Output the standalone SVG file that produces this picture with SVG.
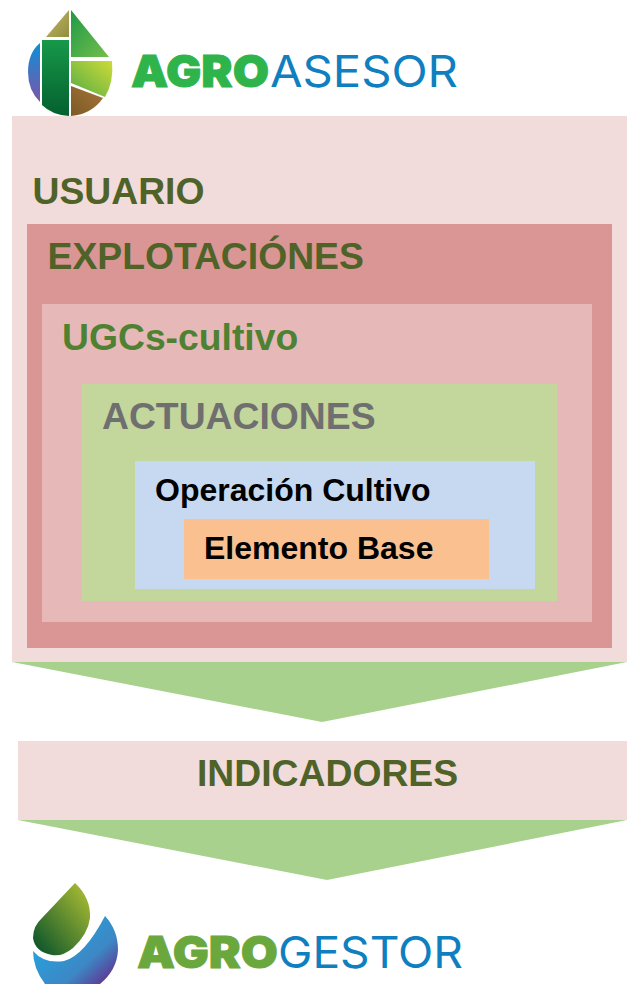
<svg xmlns="http://www.w3.org/2000/svg" width="627" height="984" viewBox="0 0 627 984">
<style>
text{font-family:"Liberation Sans",Arial,sans-serif;font-weight:700}
.logo{font-family:Inter,"Liberation Sans",sans-serif;font-size:44px}
.agro{font-weight:900;stroke-width:.9}
.rest{font-weight:400;fill:#0f7fc0}
</style>
<defs>
<linearGradient id="g1" x1="0" y1="0" x2="1" y2="1"><stop offset="0" stop-color="#c8b56a"/><stop offset="1" stop-color="#8f8f3e"/></linearGradient>
<linearGradient id="g2" x1="0" y1="0" x2="1" y2="1"><stop offset="0" stop-color="#1f9a45"/><stop offset="1" stop-color="#74bd4d"/></linearGradient>
<linearGradient id="g3" x1="1" y1="0" x2="0" y2="1"><stop offset="0" stop-color="#cedb37"/><stop offset="1" stop-color="#53ac46"/></linearGradient>
<linearGradient id="g4" x1="1" y1="0" x2="0" y2="1"><stop offset="0" stop-color="#a8743a"/><stop offset="1" stop-color="#7a5a25"/></linearGradient>
<linearGradient id="g5" x1="0" y1="0" x2="0" y2="1"><stop offset="0" stop-color="#17984a"/><stop offset="1" stop-color="#04602e"/></linearGradient>
<linearGradient id="g6" x1="0" y1="0" x2="0" y2="1"><stop offset="0" stop-color="#0d8fd8"/><stop offset="1" stop-color="#7d55a8"/></linearGradient>
<linearGradient id="g7" x1="1" y1="0" x2="0" y2="1"><stop offset="0" stop-color="#b5c334"/><stop offset="1" stop-color="#004d2a"/></linearGradient>
<linearGradient id="g8" x1="0.2" y1="0.3" x2="1" y2="1"><stop offset="0" stop-color="#27a0dc"/><stop offset="0.55" stop-color="#3d87c4"/><stop offset="1" stop-color="#6a1b83"/></linearGradient>
</defs>
<g id="logo-agroasesor">
<path fill="url(#g1)" d="M46 37L69 10V37Z"/>
<path fill="url(#g2)" d="M71 10L109 57H71Z"/>
<path fill="url(#g3)" d="M71 61H112Q114 82 105 97L71 83Z"/>
<path fill="url(#g4)" d="M71 86L103 98Q92 114 71 116Z"/>
<path fill="url(#g5)" d="M42 40H69V116Q52 115 42 105Z"/>
<path fill="url(#g6)" d="M40 43V102Q28 90 28 72Q28 53 40 43Z"/>
<text class="logo agro" x="131" y="87" fill="#2fb44c" stroke="#2fb44c" textLength="138" lengthAdjust="spacingAndGlyphs">AGRO</text>
<text class="logo rest" x="270" y="87" textLength="188" lengthAdjust="spacingAndGlyphs">ASESOR</text>
</g>
<g id="usuario">
<rect x="12" y="116" width="615" height="546" fill="#f2dcdb"/>
<text x="32.500" y="203.500" font-size="37.300" fill="#4f6228">USUARIO</text>
</g>
<g id="explotaciones">
<rect x="27" y="224" width="585" height="424" fill="#d99694"/>
<text x="47.500" y="268.500" font-size="37.300" fill="#4f6228">EXPLOTACIÓNES</text>
</g>
<g id="ugcs">
<rect x="42" y="304" width="550" height="318" fill="#e6b9b8"/>
<text x="62" y="349.500" font-size="37.300" fill="#4f8133">UGCs-cultivo</text>
</g>
<g id="actuaciones">
<rect x="82" y="384" width="475" height="217" fill="#c3d69b"/>
<text x="102" y="428.500" font-size="37.300" fill="#6f6f6f">ACTUACIONES</text>
</g>
<g id="operacion">
<rect x="135" y="461" width="400" height="128" fill="#c6d9f1"/>
<text x="155" y="501" font-size="32" fill="#000">Operación Cultivo</text>
</g>
<g id="elemento">
<rect x="184" y="519" width="305" height="60" fill="#fac090"/>
<text x="204" y="559" font-size="32" fill="#000">Elemento Base</text>
</g>
<g id="connectors">
<path fill="#a9d18e" d="M12 662H627L322 722Z"/>
<path fill="#a9d18e" d="M18 820H627L327 880Z"/>
</g>
<g id="indicadores">
<rect x="18" y="741" width="609" height="79" fill="#f2dcdb"/>
<text x="197" y="785.500" font-size="37.300" fill="#4f6228">INDICADORES</text>
</g>
<g id="logo-agrogestor">
<path fill="url(#g7)" d="M75 883Q91 898 90 918Q88 934 73 948Q62 957 52 955Q35 952 33 938Q33 926 42 918Z"/>
<path fill="url(#g8)" d="M105 916Q118 930 118 950Q117 970 100 984H45Q33 968 33 951Q44 964 64 961Q84 956 105 916Z"/>
<text class="logo agro" x="137" y="968" fill="#6aa83e" stroke="#6aa83e" textLength="141" lengthAdjust="spacingAndGlyphs">AGRO</text>
<text class="logo rest" x="278" y="968" textLength="185" lengthAdjust="spacingAndGlyphs">GESTOR</text>
</g>
</svg>
